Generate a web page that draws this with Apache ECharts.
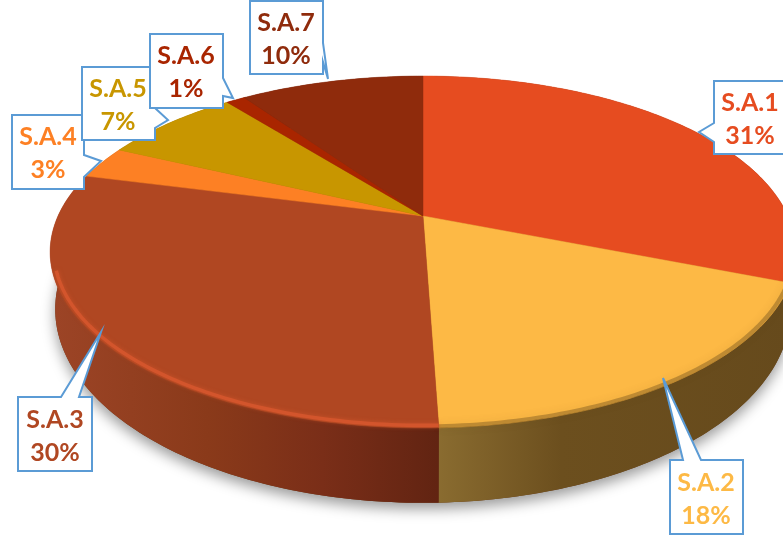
<!DOCTYPE html>
<html>
<head>
<meta charset="utf-8">
<title>S.A. pie</title>
<style>
  html, body { margin: 0; padding: 0; background: #fff; }
  #chart { width: 783px; height: 541px; }
</style>
<script src="https://cdn.jsdelivr.net/npm/echarts@6/dist/echarts.min.js"></script>
</head>
<body>
<div id="chart"></div>
<script>
// values, labels show them rounded
var categories = ["S.A.1", "S.A.2", "S.A.3", "S.A.4", "S.A.5", "S.A.6", "S.A.7"];
var values = [31, 18.45, 29.55, 3, 7.3, 1, 9.7];
var colors = ["#E64C20", "#FDB945", "#B04722", "#FD8024", "#C89600", "#A92500", "#8F2B0C"];

// side wall shading, left to right
var wallStops = [
  [[0, "#7a2d10"], [1, "#7a2d10"]],
  [[0, "#8a6c30"], [0.35, "#6c4f1e"], [1, "#664a1c"]],
  [[0, "#9c4426"], [0.4, "#8a3a1a"], [0.7, "#7a2e18"], [1, "#622412"]],
  [[0, "#a0521c"], [1, "#a0521c"]],
  [[0, "#7a5c00"], [1, "#7a5c00"]],
  [[0, "#701800"], [1, "#701800"]],
  [[0, "#5e1c08"], [1, "#5e1c08"]]
];
var rimColors = ["rgba(70,30,10,0.4)", "rgba(90,62,20,0.35)", "rgba(216,88,46,0.8)", null, null, null, null];

// perspective of the disc: top face and bottom face
var topFace = { x: 423, y: 216, a: 365, b: 168.6, k: -0.2045 };
var baseFace = { x: 423, y: 269.5, a: 360, b: 185.6, k: -0.2045 };

// callout boxes with tails, from the picture
var callouts = [
  { i: 0, cx: 750, cy: 119, pts: [[714, 81], [790, 81], [790, 154], [714, 154], [714, 142], [699, 132], [714, 123]] },
  { i: 1, cx: 706, cy: 499, pts: [[670, 460], [683, 460], [663, 378], [701, 460], [743, 460], [743, 534], [670, 534]] },
  { i: 2, cx: 55, cy: 436, pts: [[18, 397], [61, 397], [101, 332], [79, 397], [92, 397], [92, 471], [18, 471]] },
  { i: 3, cx: 48, cy: 153, pts: [[12, 115], [84, 115], [84, 155], [101, 161], [84, 177], [84, 189], [12, 189]] },
  { i: 4, cx: 118, cy: 105, pts: [[82, 67], [155, 67], [155, 108], [168, 120], [155, 128], [155, 140], [82, 140]] },
  { i: 5, cx: 186, cy: 72, pts: [[150, 34], [223, 34], [223, 78], [233, 98], [223, 96], [223, 108], [150, 108]] },
  { i: 6, cx: 286, cy: 39, pts: [[250, 1], [323, 1], [323, 43], [328, 79], [323, 62], [323, 74], [250, 74]] }
];

var total = values.reduce(function (s, v) { return s + v; }, 0);

function project(face, theta, r) {
  var ux = r * Math.sin(theta);
  var uy = -r * Math.cos(theta);
  var d = 1 + face.k * uy;
  return [face.x + face.a * ux / d, face.y + face.b * uy / d];
}

function sliceAngles(idx) {
  var before = 0;
  for (var i = 0; i < idx; i++) before += values[i];
  return [before / total * Math.PI * 2, (before + values[idx]) / total * Math.PI * 2];
}

function arc(face, t0, t1, r) {
  var n = Math.max(2, Math.ceil((t1 - t0) * 180 / Math.PI));
  var pts = [];
  for (var i = 0; i <= n; i++) pts.push(project(face, t0 + (t1 - t0) * i / n, r));
  return pts;
}

function renderBase() {
  return {
    type: "polygon",
    shape: { points: arc(baseFace, 0, Math.PI * 2, 1) },
    style: { fill: "#6a3a18", shadowBlur: 14, shadowColor: "rgba(0,0,0,0.4)", shadowOffsetY: 6 }
  };
}

function renderWall(params) {
  var t = sliceAngles(params.dataIndex);
  var pts = arc(topFace, t[0], t[1], 1).concat(arc(baseFace, t[0], t[1], 1).reverse());
  return {
    type: "polygon",
    shape: { points: pts },
    style: {
      fill: {
        type: "linear", x: params.dataIndex === 1 ? 437 : 55, y: 0, x2: params.dataIndex === 1 ? 790 : 437, y2: 0, global: true,
        colorStops: wallStops[params.dataIndex].map(function (s) { return { offset: s[0], color: s[1] }; })
      }
    }
  };
}

function renderTop(params) {
  var idx = params.dataIndex;
  var t = sliceAngles(idx);
  var pts = [[topFace.x, topFace.y]].concat(arc(topFace, t[0], t[1], 1));
  var children = [{
    type: "polygon",
    shape: { points: pts },
    style: { fill: colors[idx], stroke: colors[idx], lineWidth: 0.5 }
  }];
  if (rimColors[idx]) {
    // soft bevel along the front edge only
    var from = idx === 0 ? Math.max(t[0], 1.75) : t[0];
    var to = idx === 2 ? Math.min(t[1], 4.4) : t[1];
    children.push({
      type: "polyline",
      shape: { points: arc(topFace, from, to, idx === 2 ? 0.99 : 0.994) },
      style: {
        fill: null, stroke: rimColors[idx], lineWidth: idx === 2 ? 3.5 : 4,
        shadowBlur: idx === 2 ? 4 : 8, shadowColor: rimColors[idx]
      }
    });
  }
  return { type: "group", children: children };
}

var rows = values.map(function (v) { return [v]; });

var graphics = [];
callouts.forEach(function (c, n) {
  graphics.push({
    type: "polygon",
    z: 100 + n * 2,
    shape: { points: c.pts },
    style: { fill: "#fff", stroke: "#5B9BD5", lineWidth: 2 },
    silent: true
  });
  graphics.push({
    type: "text",
    z: 101 + n * 2,
    x: c.cx,
    y: c.cy,
    style: {
      text: categories[c.i] + "\n" + Math.round(values[c.i]) + "%",
      fill: colors[c.i],
      font: "700 25px Lato",
      lineHeight: 33,
      align: "center",
      verticalAlign: "middle"
    },
    silent: true
  });
});

var chart = echarts.init(document.getElementById("chart"), null, { renderer: "canvas" });
chart.setOption({
  animation: false,
  backgroundColor: "#fff",
  graphic: graphics,
  series: [
    { name: "base", type: "custom", coordinateSystem: "none", z: 1, silent: true, data: [[total]], renderItem: renderBase },
    { name: "wall", type: "custom", coordinateSystem: "none", z: 2, silent: true, data: rows, renderItem: renderWall },
    { name: "top", type: "custom", coordinateSystem: "none", z: 3, silent: true, data: rows, renderItem: renderTop }
  ]
});
</script>
</body>
</html>
